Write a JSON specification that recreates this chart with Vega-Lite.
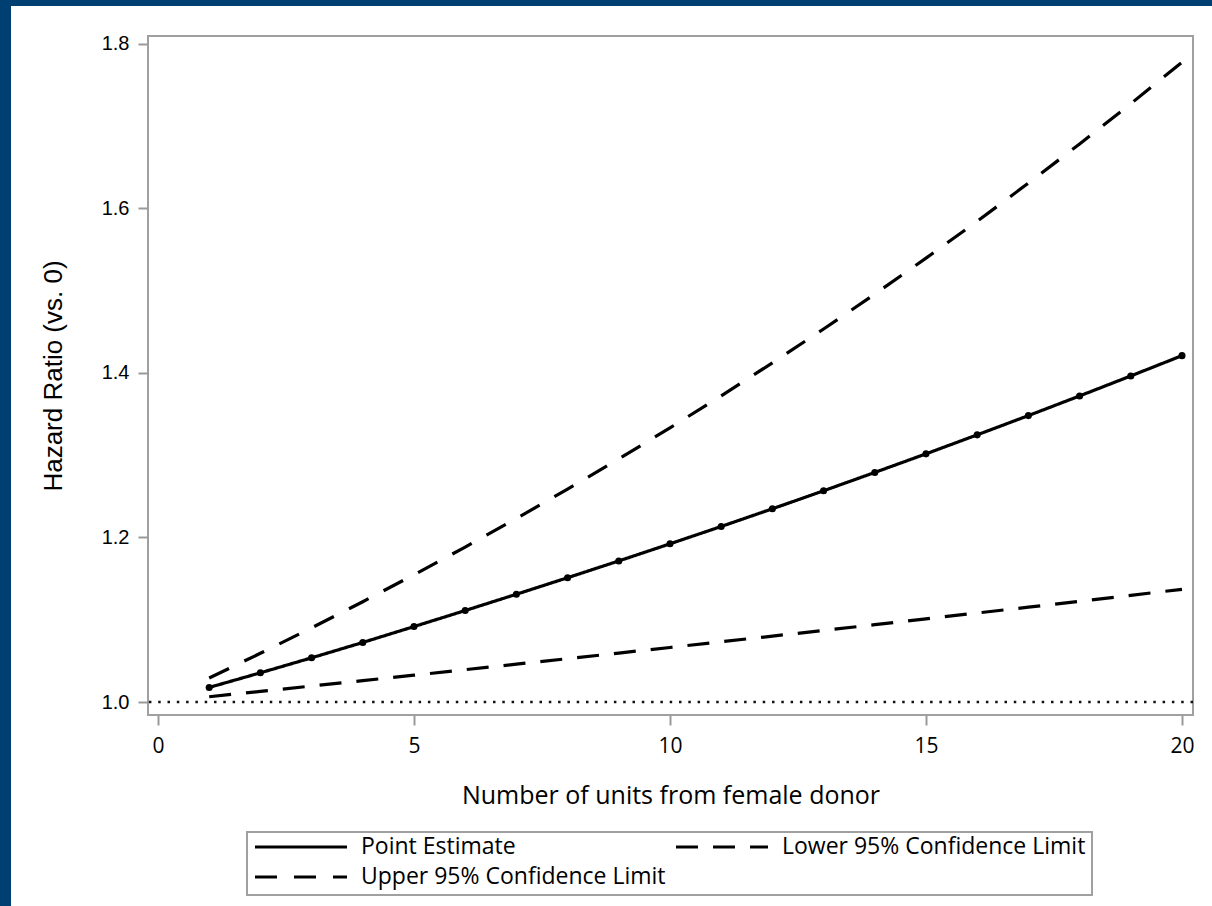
{
  "$schema": "https://vega.github.io/schema/vega-lite/v6.json",
  "padding": 0,
  "autosize": {"type": "pad"},
  "background": "white",
  "spacing": 0,
  "bounds": "flush",
  "config": {
    "view": {"stroke": null},
    "axis": {"grid": false, "domain": false, "tickColor": "#9a9a9a", "tickWidth": 2, "labelColor": "#000", "titleColor": "#000", "titleFontWeight": "normal"}
  },
  "vconcat": [
    {
      "width": 1212,
      "height": 6,
      "view": {"fill": "#003f72", "stroke": null},
      "data": {"values": []},
      "mark": "rect",
      "encoding": {}
    },
    {
      "width": 11,
      "height": 30,
      "view": {"fill": "#003f72", "stroke": null},
      "data": {"values": []},
      "mark": "rect",
      "encoding": {}
    },
    {
      "spacing": 137,
      "bounds": "flush",
      "hconcat": [
        {
          "width": 11,
          "height": 870,
          "view": {"fill": "#003f72", "stroke": null},
          "data": {"values": []},
          "mark": "rect",
          "encoding": {}
        },
        {
          "width": 1045,
          "height": 679,
          "view": {"stroke": "#a0a0a0", "strokeWidth": 2},
          "layer": [
            {
              "data": {"values": [{"reference": 1.0}]},
              "mark": {"type": "rule", "color": "#111", "strokeWidth": 2.5, "strokeDash": [2.5, 6.8]},
              "encoding": {"y": {"field": "reference", "type": "quantitative"}}
            },
            {
              "data": {
                "values": [
                  {"units": 1, "series": "Point Estimate", "hr": 1.0177},
                  {"units": 2, "series": "Point Estimate", "hr": 1.0355},
                  {"units": 3, "series": "Point Estimate", "hr": 1.0537},
                  {"units": 4, "series": "Point Estimate", "hr": 1.0724},
                  {"units": 5, "series": "Point Estimate", "hr": 1.0917},
                  {"units": 6, "series": "Point Estimate", "hr": 1.1112},
                  {"units": 7, "series": "Point Estimate", "hr": 1.1310},
                  {"units": 8, "series": "Point Estimate", "hr": 1.1511},
                  {"units": 9, "series": "Point Estimate", "hr": 1.1715},
                  {"units": 10, "series": "Point Estimate", "hr": 1.1923},
                  {"units": 11, "series": "Point Estimate", "hr": 1.2134},
                  {"units": 12, "series": "Point Estimate", "hr": 1.2349},
                  {"units": 13, "series": "Point Estimate", "hr": 1.2568},
                  {"units": 14, "series": "Point Estimate", "hr": 1.2791},
                  {"units": 15, "series": "Point Estimate", "hr": 1.3017},
                  {"units": 16, "series": "Point Estimate", "hr": 1.3248},
                  {"units": 17, "series": "Point Estimate", "hr": 1.3482},
                  {"units": 18, "series": "Point Estimate", "hr": 1.3721},
                  {"units": 19, "series": "Point Estimate", "hr": 1.3964},
                  {"units": 20, "series": "Point Estimate", "hr": 1.4211},
                  {"units": 1, "series": "Lower 95% Confidence Limit", "hr": 1.0064},
                  {"units": 2, "series": "Lower 95% Confidence Limit", "hr": 1.0129},
                  {"units": 3, "series": "Lower 95% Confidence Limit", "hr": 1.0194},
                  {"units": 4, "series": "Lower 95% Confidence Limit", "hr": 1.0260},
                  {"units": 5, "series": "Lower 95% Confidence Limit", "hr": 1.0326},
                  {"units": 6, "series": "Lower 95% Confidence Limit", "hr": 1.0393},
                  {"units": 7, "series": "Lower 95% Confidence Limit", "hr": 1.0460},
                  {"units": 8, "series": "Lower 95% Confidence Limit", "hr": 1.0527},
                  {"units": 9, "series": "Lower 95% Confidence Limit", "hr": 1.0595},
                  {"units": 10, "series": "Lower 95% Confidence Limit", "hr": 1.0663},
                  {"units": 11, "series": "Lower 95% Confidence Limit", "hr": 1.0732},
                  {"units": 12, "series": "Lower 95% Confidence Limit", "hr": 1.0801},
                  {"units": 13, "series": "Lower 95% Confidence Limit", "hr": 1.0870},
                  {"units": 14, "series": "Lower 95% Confidence Limit", "hr": 1.0940},
                  {"units": 15, "series": "Lower 95% Confidence Limit", "hr": 1.1011},
                  {"units": 16, "series": "Lower 95% Confidence Limit", "hr": 1.1082},
                  {"units": 17, "series": "Lower 95% Confidence Limit", "hr": 1.1153},
                  {"units": 18, "series": "Lower 95% Confidence Limit", "hr": 1.1225},
                  {"units": 19, "series": "Lower 95% Confidence Limit", "hr": 1.1297},
                  {"units": 20, "series": "Lower 95% Confidence Limit", "hr": 1.1370},
                  {"units": 1, "series": "Upper 95% Confidence Limit", "hr": 1.0292},
                  {"units": 2, "series": "Upper 95% Confidence Limit", "hr": 1.0592},
                  {"units": 3, "series": "Upper 95% Confidence Limit", "hr": 1.0901},
                  {"units": 4, "series": "Upper 95% Confidence Limit", "hr": 1.1219},
                  {"units": 5, "series": "Upper 95% Confidence Limit", "hr": 1.1547},
                  {"units": 6, "series": "Upper 95% Confidence Limit", "hr": 1.1884},
                  {"units": 7, "series": "Upper 95% Confidence Limit", "hr": 1.2231},
                  {"units": 8, "series": "Upper 95% Confidence Limit", "hr": 1.2588},
                  {"units": 9, "series": "Upper 95% Confidence Limit", "hr": 1.2955},
                  {"units": 10, "series": "Upper 95% Confidence Limit", "hr": 1.3333},
                  {"units": 11, "series": "Upper 95% Confidence Limit", "hr": 1.3722},
                  {"units": 12, "series": "Upper 95% Confidence Limit", "hr": 1.4123},
                  {"units": 13, "series": "Upper 95% Confidence Limit", "hr": 1.4535},
                  {"units": 14, "series": "Upper 95% Confidence Limit", "hr": 1.4959},
                  {"units": 15, "series": "Upper 95% Confidence Limit", "hr": 1.5396},
                  {"units": 16, "series": "Upper 95% Confidence Limit", "hr": 1.5845},
                  {"units": 17, "series": "Upper 95% Confidence Limit", "hr": 1.6308},
                  {"units": 18, "series": "Upper 95% Confidence Limit", "hr": 1.6784},
                  {"units": 19, "series": "Upper 95% Confidence Limit", "hr": 1.7274},
                  {"units": 20, "series": "Upper 95% Confidence Limit", "hr": 1.7778}
                ]
              },
              "encoding": {
                "x": {
                  "field": "units",
                  "type": "quantitative",
                  "scale": {"domain": [-0.195, 20.215], "nice": false, "zero": false},
                  "axis": {
                    "title": "Number of units from female donor",
                    "values": [0, 5, 10, 15, 20],
                    "format": "d",
                    "tickSize": 10,
                    "labelPadding": 10,
                    "labelFont": "Open Sans",
                    "labelFontSize": 21,
                    "titleFont": "Open Sans",
                    "titleFontSize": 25,
                    "titlePadding": 27
                  }
                },
                "y": {
                  "field": "hr",
                  "type": "quantitative",
                  "scale": {"domain": [0.9842, 1.8097], "nice": false, "zero": false},
                  "axis": {
                    "title": "Hazard Ratio (vs. 0)",
                    "values": [1.0, 1.2, 1.4, 1.6, 1.8],
                    "format": ".1f",
                    "tickSize": 10,
                    "labelPadding": 9,
                    "labelFont": "Liberation Sans",
                    "labelFontSize": 20,
                    "titleFont": "Liberation Sans",
                    "titleFontSize": 26,
                    "titlePadding": 35
                  }
                }
              },
              "layer": [
                {
                  "mark": {"type": "line", "color": "#000", "strokeWidth": 3.2},
                  "encoding": {
                    "strokeDash": {
                      "field": "series",
                      "type": "nominal",
                      "scale": {
                        "domain": ["Point Estimate", "Lower 95% Confidence Limit", "Upper 95% Confidence Limit"],
                        "range": [[1, 0], [22, 15], [22, 17]]
                      },
                      "legend": {
                        "title": null,
                        "orient": "none",
                        "direction": "horizontal",
                        "legendX": 247,
                        "legendY": 832,
                        "columns": 2,
                        "columnPadding": 8,
                        "rowPadding": 7,
                        "padding": 6,
                        "strokeColor": "#a0a0a0",
                        "symbolType": "stroke",
                        "symbolSize": 8464,
                        "clipHeight": 18,
                        "symbolStrokeWidth": 3.2,
                        "symbolStrokeColor": "#000",
                        "labelFont": "Open Sans",
                        "labelFontSize": 23,
                        "labelColor": "#000",
                        "labelOffset": 12,
                        "labelLimit": 600,
                        "encode": {"legend": {"update": {"strokeWidth": {"value": 2}}}}
                      }
                    }
                  }
                },
                {
                  "transform": [{"filter": "datum.series === 'Point Estimate'"}],
                  "mark": {"type": "point", "filled": true, "color": "#000", "size": 50, "opacity": 1}
                }
              ]
            }
          ]
        }
      ]
    }
  ]
}
